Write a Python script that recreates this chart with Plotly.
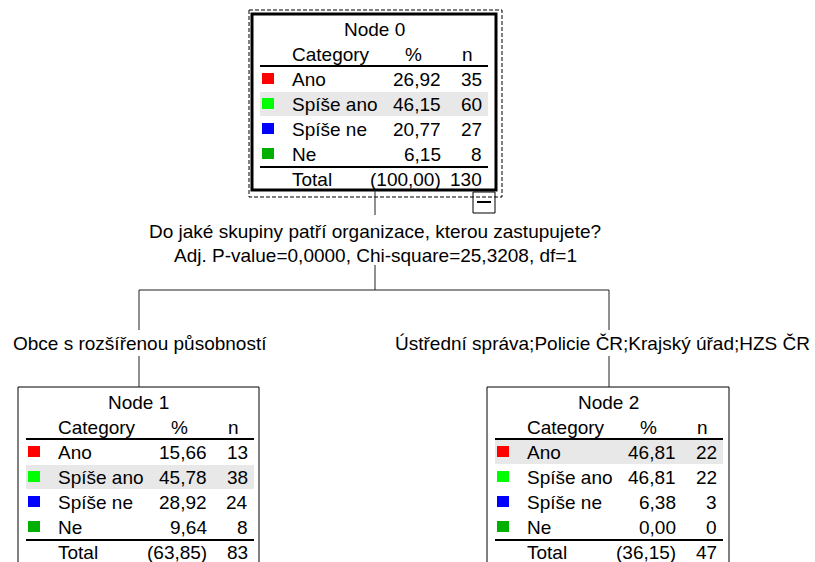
import plotly.graph_objects as go

categories = ["Ano", "Spíše ano", "Spíše ne", "Ne"]
cat_colors = ["#FF0000", "#00FF00", "#0000FF", "#00B000"]
node_names = ["Node 0", "Node 1", "Node 2"]
node_pct = [
    [26.92, 46.15, 20.77, 6.15],
    [15.66, 45.78, 28.92, 9.64],
    [46.81, 46.81, 6.38, 0.00],
]
node_n = [
    [35, 60, 27, 8],
    [13, 38, 24, 8],
    [22, 22, 3, 0],
]
node_total_pct = [100.00, 63.85, 36.15]
node_total_n = [130, 83, 47]
split_question = "Do jaké skupiny patří organizace, kterou zastupujete?"
split_stats = "Adj. P-value=0,0000, Chi-square=25,3208, df=1"
branch_labels = [
    "Obce s rozšířenou působností",
    "Ústřední správa;Policie ČR;Krajský úřad;HZS ČR",
]

# ---- layout (page pixel space, y downwards) ----
W, H = 815, 562
FONT = dict(family="Arial, Liberation Sans, sans-serif", size=19, color="#000000")
LINE = dict(color="#202020", width=1)
node_box = [(252, 14, 244), (18, 387, 241), (487, 387, 242)]  # left, top, width


def fmt(v):
    return f"{v:.2f}".replace(".", ",")


shapes = []
annotations = []


def text(x, y, s, anchor="left"):
    annotations.append(dict(x=x, y=y, text=s, showarrow=False, xanchor=anchor,
                            yanchor="middle", font=FONT, xref="x", yref="y"))


def line(x0, y0, x1, y1, **kw):
    shapes.append(dict(type="line", x0=x0, y0=y0, x1=x1, y1=y1,
                       line=kw.get("line", LINE), xref="x", yref="y"))


for k, (left, top, width) in enumerate(node_box):
    bottom = top + 176 if k == 0 else H + 20
    cx = left + width / 2
    # highlighted modal row
    hi = node_n[k].index(max(node_n[k]))
    yc = top + 65 + 25 * hi
    shapes.append(dict(type="rect", x0=left + 8, x1=left + 236, y0=yc - 12, y1=yc + 12,
                       fillcolor="#E8E8E8", line=dict(width=0), layer="below"))
    shapes.append(dict(type="rect", x0=left, x1=left + width, y0=top, y1=bottom,
                       line=dict(color="#000000", width=3 if k == 0 else 1),
                       fillcolor="rgba(0,0,0,0)"))
    text(cx, top + 15, node_names[k], "center")
    text(left + 38, top + 40, "Category")
    text(left + 161, top + 40, "%", "center")
    text(left + 215, top + 40, "n", "center")
    line(left + 8, top + 52, left + 236, top + 52, line=dict(color="#000000", width=2))
    for i, cat in enumerate(categories):
        y = top + 65 + 25 * i
        shapes.append(dict(type="rect", x0=left + 10, x1=left + 22, y0=y - 6, y1=y + 5,
                           fillcolor=cat_colors[i], line=dict(width=0)))
        text(left + 38, y, cat)
        text(left + 191, y, fmt(node_pct[k][i]), "right")
        text(left + 232, y, str(node_n[k][i]), "right")
    line(left + 8, top + 153, left + 236, top + 153, line=dict(color="#000000", width=2))
    text(left + 38, top + 165, "Total")
    text(left + 191, top + 165, f"({fmt(node_total_pct[k])})", "right")
    text(left + 232, top + 165, str(node_total_n[k]), "right")

# dashed selection frame around the root and its collapse button
shapes.append(dict(type="rect", x0=249, x1=502, y0=10, y1=197,
                   line=dict(color="#000000", width=1, dash="4px,2px")))
shapes.append(dict(type="rect", x0=473, x1=495, y0=192, y1=213,
                   line=dict(color="#000000", width=1)))
line(477, 202, 491, 202, line=dict(color="#000000", width=2))

# connectors
root_x = 375
line(root_x, 190, root_x, 215)
text(root_x, 231, split_question, "center")
text(root_x, 255, split_stats, "center")
line(root_x, 265, root_x, 290)
child_x = [139, 609]
line(child_x[0], 290, child_x[1], 290)
line(child_x[0], 290, child_x[0], 330)
text(140, 343, branch_labels[0], "center")
line(child_x[0], 356, child_x[0], 387)
line(child_x[1], 290, child_x[1], 330)
text(812, 343, branch_labels[1], "right")
line(child_x[1], 356, child_x[1], 387)

fig = go.Figure()
fig.update_layout(
    width=W, height=H,
    margin=dict(l=0, r=0, t=0, b=0),
    paper_bgcolor="#FFFFFF", plot_bgcolor="#FFFFFF",
    xaxis=dict(range=[0, W], visible=False, fixedrange=True),
    yaxis=dict(range=[H, 0], visible=False, fixedrange=True),
    shapes=shapes, annotations=annotations, showlegend=False,
)
fig.write_html(
    "out.html",
    config=dict(displayModeBar=False),
    post_script="document.body.style.margin='0';document.body.style.overflow='hidden';",
)
